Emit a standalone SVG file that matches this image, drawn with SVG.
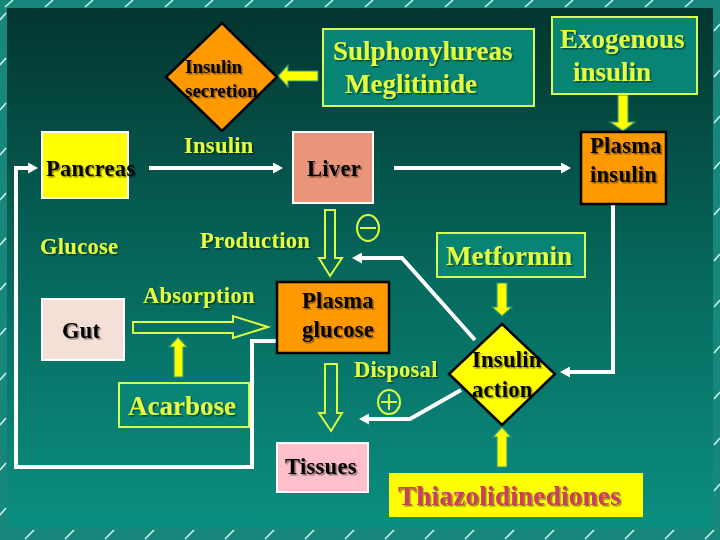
<svg xmlns="http://www.w3.org/2000/svg" width="720" height="540" viewBox="0 0 720 540">
<defs>
  <linearGradient id="bg" x1="0" y1="0" x2="0" y2="1">
    <stop offset="0" stop-color="#03352f"/>
    <stop offset="0.5" stop-color="#06675c"/>
    <stop offset="1" stop-color="#0b8f80"/>
  </linearGradient>
  <filter id="sh" x="-10%" y="-20%" width="130%" height="150%">
    <feDropShadow dx="1.5" dy="1.5" stdDeviation="0.4" flood-color="#000" flood-opacity="0.45"/>
  </filter>
  <marker id="ah" viewBox="0 0 10 11" refX="0" refY="5.5" markerWidth="10" markerHeight="11" markerUnits="userSpaceOnUse" orient="auto">
    <path d="M0,0 L10,5.5 L0,11 z" fill="#ffffff"/>
  </marker>
</defs>
<style>
  .lbl { font-family: "Liberation Serif", "Times New Roman", serif; font-weight: bold; filter: url(#sh); }
  .yl { fill: #e6ff3c; }
  .bk { fill: #000000; }
  .big { font-size: 27px; }
  .mid { font-size: 22.5px; letter-spacing: 0.3px; }
  .tbox { fill: #078474; stroke: #d4ff55; stroke-width: 2; }
  .wbox { stroke: #ffffff; stroke-width: 2; }
  .obox { fill: #ff9900; stroke: #000000; stroke-width: 2.5; }
  .conn { fill: none; stroke: #ffffff; stroke-width: 4; marker-end: url(#ah); }
  .hollow { fill: none; stroke: #dcff40; stroke-width: 2; }
  .solid { fill: #ffff00; stroke: #2e9a78; stroke-width: 1.2; }
  .sign { fill: none; stroke: #dcff40; stroke-width: 2; }
</style>

<!-- frame -->
<rect x="0" y="0" width="720" height="540" fill="#17877c"/>
<rect x="7" y="8" width="706" height="520" fill="url(#bg)"/>
<path fill="none" stroke="#c8f4f0" stroke-width="1.6" d="M5,7 l8,-7 M45,7 l8,-7 M85,7 l8,-7 M125,7 l8,-7 M165,7 l8,-7 M205,7 l8,-7 M245,7 l8,-7 M285,7 l8,-7 M325,7 l8,-7 M365,7 l8,-7 M405,7 l8,-7 M445,7 l8,-7 M485,7 l8,-7 M525,7 l8,-7 M565,7 l8,-7 M605,7 l8,-7 M645,7 l8,-7 M685,7 l8,-7
M25,539 l9,-9 M65,539 l9,-9 M105,539 l9,-9 M145,539 l9,-9 M185,539 l9,-9 M225,539 l9,-9 M265,539 l9,-9 M305,539 l9,-9 M345,539 l9,-9 M385,539 l9,-9 M425,539 l9,-9 M465,539 l9,-9 M505,539 l9,-9 M545,539 l9,-9 M585,539 l9,-9 M625,539 l9,-9 M665,539 l9,-9 M705,539 l9,-9
M0,20 l6,-7 M0,65 l6,-7 M0,110 l6,-7 M0,155 l6,-7 M0,200 l6,-7 M0,245 l6,-7 M0,290 l6,-7 M0,335 l6,-7 M0,380 l6,-7 M0,425 l6,-7 M0,470 l6,-7 M0,515 l6,-7
M714,31 l6,-7 M714,77 l6,-7 M714,123 l6,-7 M714,169 l6,-7 M714,215 l6,-7 M714,261 l6,-7 M714,307 l6,-7 M714,353 l6,-7 M714,399 l6,-7 M714,445 l6,-7 M714,491 l6,-7"/>

<!-- connectors -->
<g id="connectors">
  <path class="conn" d="M149,168 H273"/>
  <path class="conn" d="M394,168 H561"/>
  <path class="conn" d="M613,204 V372 H570"/>
  <path class="conn" d="M475,340 L402,258 H362"/>
  <path class="conn" d="M461,390 L410,419 H369"/>
  <path class="conn" d="M277,341 H252 V467 H16 V168 H28"/>
  <polygon class="hollow" points="325,210 335,210 335,258 342,258 330,276 319,258 325,258"/>
  <polygon class="hollow" points="133,322 233,322 233,316 268,327 233,338 233,333 133,333"/>
  <polygon class="hollow" points="325,364 337,364 337,413 342,413 331,431 319,413 325,413"/>
  <polygon class="solid" points="318,71 288,71 288,65 278,76 288,87 288,81 318,81"/>
  <polygon class="solid" points="618,95 628,95 628,122 635,122 623,131 610,122 618,122"/>
  <polygon class="solid" points="174,377 183,377 183,347 187,347 178,337 169,347 174,347"/>
  <polygon class="solid" points="497,283 507,283 507,307 512,307 502,316 492,307 497,307"/>
  <polygon class="solid" points="497,467 507,467 507,437 511,437 502,427 493,437 497,437"/>
</g>

<!-- nodes -->
<g id="insulin-secretion">
  <polygon points="222,23 277,77 222,131 166,77" fill="#ff9900" stroke="#000" stroke-width="2.5"/>
  <text class="lbl bk" x="185" y="73" font-size="19">Insulin</text>
  <text class="lbl bk" x="185" y="97" font-size="19">secretion</text>
</g>
<g id="sulphonylureas">
  <rect class="tbox" x="323" y="29" width="211" height="77"/>
  <text class="lbl yl big" x="333" y="60">Sulphonylureas</text>
  <text class="lbl yl big" x="345" y="93">Meglitinide</text>
</g>
<g id="exogenous-insulin">
  <rect class="tbox" x="552" y="17" width="145" height="77"/>
  <text class="lbl yl big" x="560" y="48">Exogenous</text>
  <text class="lbl yl big" x="573" y="81">insulin</text>
</g>
<g id="pancreas">
  <rect class="wbox" x="42" y="132" width="86" height="66" fill="#ffff00"/>
  <text class="lbl bk mid" x="46" y="176">Pancreas</text>
</g>
<g id="liver">
  <rect class="wbox" x="293" y="132" width="80" height="71" fill="#e8957a"/>
  <text class="lbl bk mid" x="307" y="176">Liver</text>
</g>
<g id="plasma-insulin">
  <rect class="obox" x="581" y="132" width="85" height="72"/>
  <text class="lbl bk mid" x="590" y="153">Plasma</text>
  <text class="lbl bk mid" x="590" y="182">insulin</text>
</g>
<g id="label-insulin"><text class="lbl yl mid" x="184" y="153">Insulin</text></g>
<g id="label-glucose"><text class="lbl yl mid" x="40" y="254">Glucose</text></g>
<g id="label-production"><text class="lbl yl mid" x="200" y="248">Production</text></g>
<g id="label-absorption"><text class="lbl yl mid" x="143" y="303">Absorption</text></g>
<g id="label-disposal"><text class="lbl yl mid" x="354" y="377">Disposal</text></g>
<g id="minus-sign">
  <ellipse class="sign" cx="368" cy="228" rx="11" ry="13"/>
  <line class="sign" x1="360" y1="228" x2="376" y2="228"/>
</g>
<g id="plus-sign">
  <ellipse class="sign" cx="389" cy="402" rx="11" ry="12"/>
  <line class="sign" x1="381" y1="402" x2="397" y2="402"/>
  <line class="sign" x1="389" y1="394" x2="389" y2="410"/>
</g>
<g id="metformin">
  <rect class="tbox" x="437" y="233" width="148" height="44"/>
  <text class="lbl yl big" x="446" y="265">Metformin</text>
</g>
<g id="gut">
  <rect class="wbox" x="42" y="299" width="82" height="61" fill="#f5e0d8"/>
  <text class="lbl bk mid" x="62" y="338">Gut</text>
</g>
<g id="plasma-glucose">
  <rect class="obox" x="277" y="282" width="112" height="71"/>
  <text class="lbl bk mid" x="302" y="308">Plasma</text>
  <text class="lbl bk mid" x="302" y="337">glucose</text>
</g>
<g id="insulin-action">
  <polygon points="502,324 555,374 502,425 449,374" fill="#ffff00" stroke="#000" stroke-width="2.5"/>
  <text class="lbl bk mid" x="472" y="367">Insulin</text>
  <text class="lbl bk mid" x="472" y="397">action</text>
</g>
<g id="acarbose">
  <rect class="tbox" x="119" y="383" width="130" height="44"/>
  <text class="lbl yl big" x="128" y="415">Acarbose</text>
</g>
<g id="tissues">
  <rect class="wbox" x="277" y="443" width="91" height="49" fill="#ffc0cb"/>
  <text class="lbl bk mid" x="285" y="474">Tissues</text>
</g>
<g id="thiazolidinediones">
  <rect x="389" y="473" width="254" height="44" fill="#ffff00"/>
  <text class="lbl big" x="398" y="505" fill="#cc3a6c" letter-spacing="0.3">Thiazolidinediones</text>
</g>
</svg>
